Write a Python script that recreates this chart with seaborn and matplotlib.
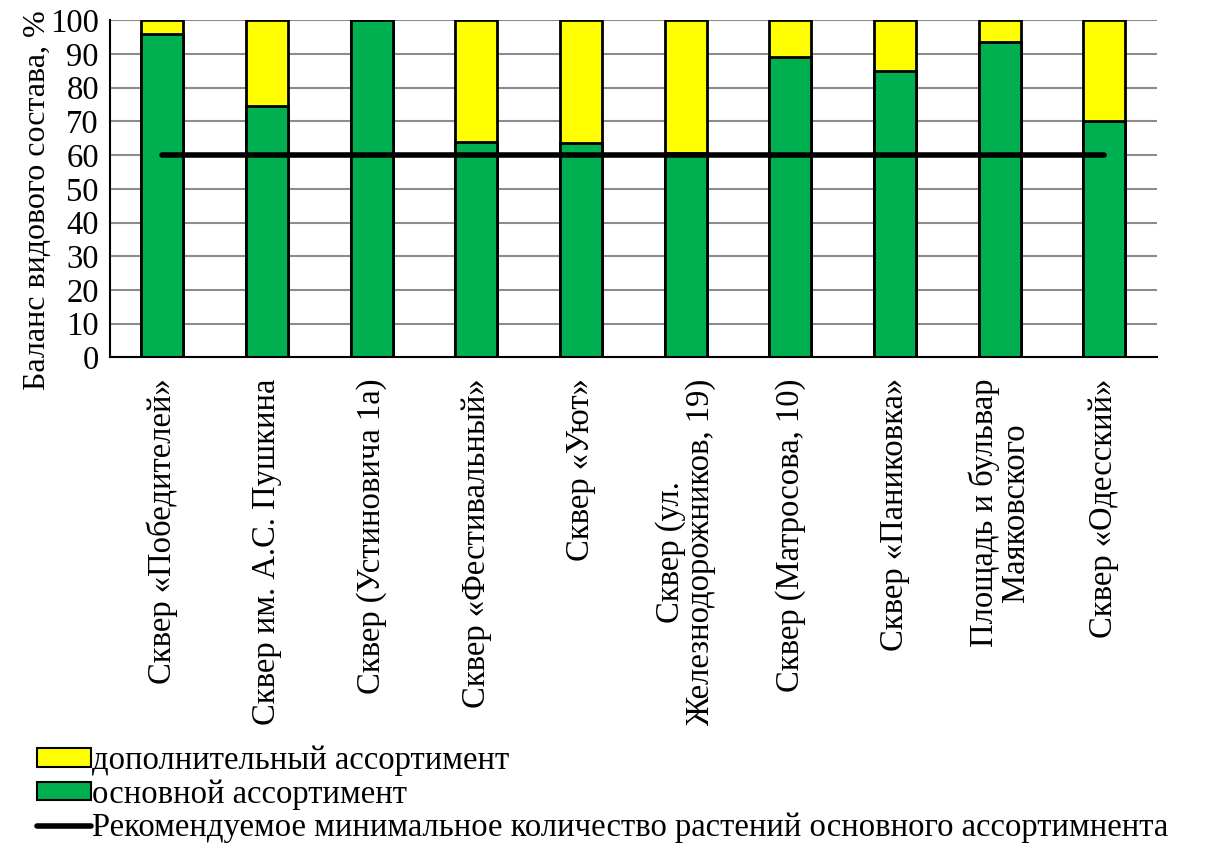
import matplotlib.pyplot as plt
import matplotlib.patches as mpatches
import matplotlib.lines as mlines
import numpy as np
import pandas as pd
import seaborn as sns

categories = [
    "Сквер «Победителей»",
    "Сквер им. А.С. Пушкина",
    "Сквер (Устиновича 1а)",
    "Сквер «Фестивальный»",
    "Сквер «Уют»",
    "Сквер (ул.\nЖелезнодорожников, 19)",
    "Сквер (Матросова, 10)",
    "Сквер «Паниковка»",
    "Площадь и бульвар\nМаяковского",
    "Сквер «Одесский»",
]
main_share = [95.8, 74.5, 100, 64, 63.5, 60.5, 89, 85, 93.6, 70]
extra_share = [100 - v for v in main_share]
recommended_min = [60] * len(categories)

GREEN = "#00b050"
YELLOW = "#ffff00"
FS = 23.5

sns.set_style("white")
plt.rcParams["font.family"] = "serif"
plt.rcParams["font.serif"] = ["Liberation Serif", "DejaVu Serif"]
plt.rcParams["text.color"] = "black"
plt.rcParams["xtick.color"] = "black"
plt.rcParams["ytick.color"] = "black"
plt.rcParams["axes.labelcolor"] = "black"

df = pd.DataFrame({
    "cat": categories,
    "main": main_share,
    "total": np.array(main_share) + np.array(extra_share),
    "rec": recommended_min,
})

fig = plt.figure(figsize=(12.24, 8.47), dpi=100)
ax = fig.add_axes([0.0899, 0.578, 0.855, 0.398])

sns.barplot(data=df, x="cat", y="total", color=YELLOW, width=0.4,
            edgecolor="black", linewidth=2, saturation=1, ax=ax)
sns.barplot(data=df, x="cat", y="main", color=GREEN, width=0.4,
            edgecolor="black", linewidth=2, saturation=1, ax=ax)
sns.lineplot(data=df, x="cat", y="rec", color="black", linewidth=4,
             solid_capstyle="round", sort=False, ax=ax)

ax.set_ylim(0, 100)
ax.set_xlim(-0.5, len(categories) - 0.5)
ax.set_yticks(range(0, 101, 10))
ax.yaxis.grid(True, color="#8c8c8c", linewidth=1.5)
ax.set_axisbelow(True)
for s in ["top", "right"]:
    ax.spines[s].set_visible(False)
for s in ["left", "bottom"]:
    ax.spines[s].set_color("black")
    ax.spines[s].set_linewidth(1.5)

ax.set_xlabel("")
ax.set_ylabel("Баланс видового состава, %", fontsize=23, labelpad=4)
ax.yaxis.set_label_coords(-0.055, 0.466)
ax.set_xticks(range(len(categories)))
ax.set_xticklabels(categories, rotation=90, fontsize=FS, ha="center", va="top",
                   multialignment="center", linespacing=1.0)
ax.tick_params(axis="x", length=0, pad=15)
ax.set_xticks(np.arange(-0.5, len(categories), 1), minor=True)
ax.tick_params(axis="x", which="minor", length=7, width=1.5, color="black", direction="out")
ax.tick_params(axis="y", length=6, width=1.5, color="black", direction="out", labelsize=FS, pad=2)

handles = [
    mpatches.Patch(facecolor=YELLOW, edgecolor="black", linewidth=1.5, label="дополнительный ассортимент"),
    mpatches.Patch(facecolor=GREEN, edgecolor="black", linewidth=1.5, label="основной ассортимент"),
    mlines.Line2D([], [], color="black", linewidth=4,
                  label="Рекомендуемое минимальное количество растений основного ассортимнента"),
]
fig.legend(handles=handles, loc="upper left", bbox_to_anchor=(0.03, 0.12), frameon=False,
           fontsize=FS, handlelength=1.65, handleheight=0.5, handletextpad=0.05,
           labelspacing=0.1, borderaxespad=0, borderpad=0)

fig.savefig("out.png", dpi=100)
